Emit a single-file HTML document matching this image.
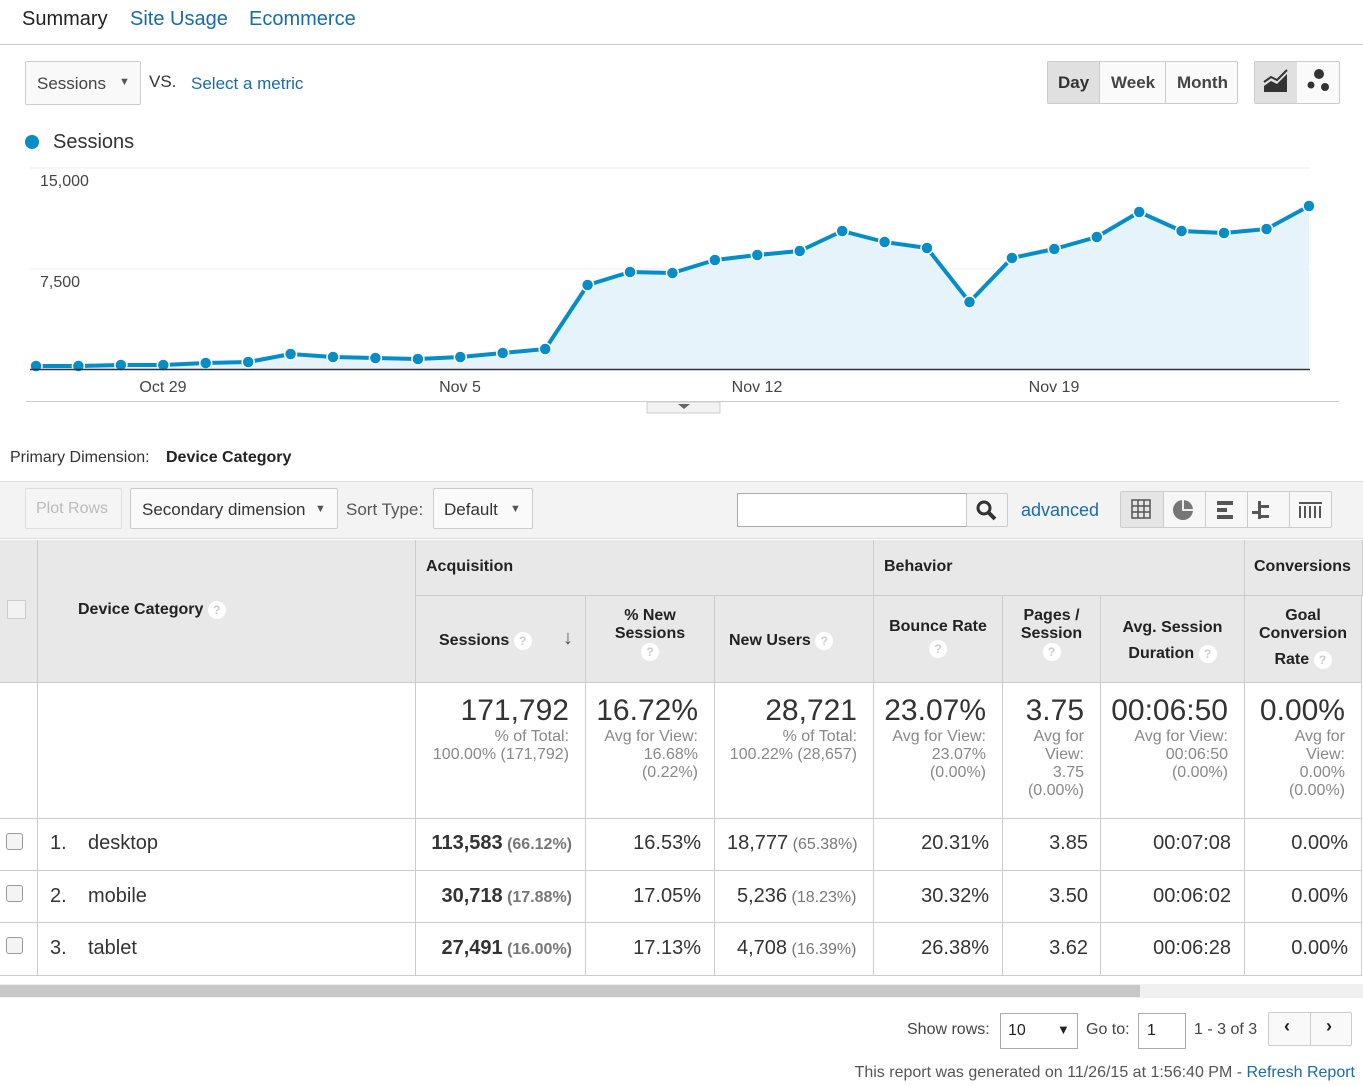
<!DOCTYPE html>
<html><head><meta charset="utf-8"><style>
*{box-sizing:border-box;margin:0;padding:0}
body{width:1363px;height:1086px;overflow:hidden;background:#fff;font-family:"Liberation Sans",Arial,sans-serif;color:#333;position:relative}
.a{position:absolute;white-space:nowrap}
.btn{position:absolute;border:1px solid #ccc;border-radius:2px;background:#f9f9f9}
.hd{position:absolute;background:#e8e8e8;border-right:1px solid #ccc;border-bottom:1px solid #ccc;font-weight:bold;font-size:16px;color:#222}
.q{display:inline-block;width:18px;height:18px;border-radius:9px;background:#fff;color:#ccc;font-size:12px;text-align:center;line-height:18px;font-weight:bold;vertical-align:middle}
.cell{position:absolute;border-right:1px solid #ccc;border-bottom:1px solid #ccc}
.big{font-size:30px;color:#333}
.sm{font-size:16px;color:#888;line-height:18px}
.r{text-align:right}
.v{font-size:20px;color:#333}
.g{font-size:16px;color:#777}
</style></head><body>
<div class="a" style="left:22px;top:8px;font-size:20px;color:#222">Summary</div>
<div class="a" style="left:130px;top:8px;font-size:20px;color:#1a6ba8">Site Usage</div>
<div class="a" style="left:249px;top:8px;font-size:20px;color:#1a6ba8">Ecommerce</div>
<div class="a" style="left:0;top:44px;width:1363px;height:1px;background:#ccc"></div>

<div class="btn" style="left:25px;top:61px;width:116px;height:44px"></div>
<div class="a" style="left:37px;top:74px;font-size:17px;color:#444">Sessions</div>
<div class="a" style="left:119px;top:76px;font-size:11px;color:#555">▼</div>
<div class="a" style="left:149px;top:72px;font-size:17px;color:#333">VS.</div>
<div class="a" style="left:191px;top:74px;font-size:17px;color:#1a6ba8">Select a metric</div>

<div class="btn" style="left:1047px;top:61px;width:191px;height:43px;background:#fafafa"></div>
<div class="a" style="left:1048px;top:62px;width:52px;height:41px;background:#e0e0e0"></div>
<div class="a" style="left:1099px;top:61px;width:1px;height:43px;background:#ccc"></div>
<div class="a" style="left:1165px;top:61px;width:1px;height:43px;background:#ccc"></div>
<div class="a" style="left:1058px;top:73px;font-size:17px;font-weight:bold;color:#333">Day</div>
<div class="a" style="left:1111px;top:73px;font-size:17px;font-weight:bold;color:#444">Week</div>
<div class="a" style="left:1177px;top:73px;font-size:17px;font-weight:bold;color:#444">Month</div>
<div class="btn" style="left:1254px;top:61px;width:86px;height:43px;background:#fafafa"></div>
<div class="a" style="left:1255px;top:62px;width:42px;height:41px;background:#e0e0e0"></div>
<svg class="a" style="left:1255px;top:62px" width="85" height="41"><path d="M9 30 L9 24 L16 19 L22 22 L32 12 L32 30Z" fill="#333"/><path d="M9 20 L16 15 L22 18 L32 8" stroke="#333" stroke-width="2" fill="none"/><circle cx="64" cy="12" r="5" fill="#333"/><circle cx="56" cy="23" r="3.5" fill="#333"/><circle cx="70" cy="25" r="4" fill="#333"/></svg>

<div class="a" style="left:25px;top:135px;width:14px;height:14px;border-radius:7px;background:#058dc7"></div>
<div class="a" style="left:53px;top:131px;font-size:20px;color:#333">Sessions</div>

<svg class="a" style="left:0;top:160px" width="1363" height="260">
<line x1="30" y1="8" x2="1310" y2="8" stroke="#eee"/>
<line x1="30" y1="109" x2="1310" y2="109" stroke="#eee"/>
<polygon fill="#e6f3fa" points="36,206 78.4,206 120.9,205 163.3,205 205.7,203 248.2,202 290.6,194 333,197 375.4,198 417.9,199 460.3,197 502.7,193 545.2,189 587.6,125 630,112 672.4,113 714.9,100 757.3,95 799.7,91 842.2,71 884.6,82 927,88 969.5,142 1011.9,98 1054.3,89 1096.8,77 1139.2,52 1181.6,71 1224,73 1266.5,69 1309,46 1309,209 36,209"/>
<polyline fill="none" stroke="#058dc7" stroke-width="4" stroke-linejoin="round" points="36,206 78.4,206 120.9,205 163.3,205 205.7,203 248.2,202 290.6,194 333,197 375.4,198 417.9,199 460.3,197 502.7,193 545.2,189 587.6,125 630,112 672.4,113 714.9,100 757.3,95 799.7,91 842.2,71 884.6,82 927,88 969.5,142 1011.9,98 1054.3,89 1096.8,77 1139.2,52 1181.6,71 1224,73 1266.5,69 1309,46"/>
<g fill="#058dc7" stroke="#fff" stroke-width="1.5">
<circle cx="36" cy="206" r="6"/><circle cx="78.4" cy="206" r="6"/><circle cx="120.9" cy="205" r="6"/><circle cx="163.3" cy="205" r="6"/><circle cx="205.7" cy="203" r="6"/><circle cx="248.2" cy="202" r="6"/><circle cx="290.6" cy="194" r="6"/><circle cx="333" cy="197" r="6"/><circle cx="375.4" cy="198" r="6"/><circle cx="417.9" cy="199" r="6"/><circle cx="460.3" cy="197" r="6"/><circle cx="502.7" cy="193" r="6"/><circle cx="545.2" cy="189" r="6"/><circle cx="587.6" cy="125" r="6"/><circle cx="630" cy="112" r="6"/><circle cx="672.4" cy="113" r="6"/><circle cx="714.9" cy="100" r="6"/><circle cx="757.3" cy="95" r="6"/><circle cx="799.7" cy="91" r="6"/><circle cx="842.2" cy="71" r="6"/><circle cx="884.6" cy="82" r="6"/><circle cx="927" cy="88" r="6"/><circle cx="969.5" cy="142" r="6"/><circle cx="1011.9" cy="98" r="6"/><circle cx="1054.3" cy="89" r="6"/><circle cx="1096.8" cy="77" r="6"/><circle cx="1139.2" cy="52" r="6"/><circle cx="1181.6" cy="71" r="6"/><circle cx="1224" cy="73" r="6"/><circle cx="1266.5" cy="69" r="6"/><circle cx="1309" cy="46" r="6"/>
</g>
<line x1="30" y1="209.5" x2="1310" y2="209.5" stroke="#333" stroke-width="1.5"/>
<text x="40" y="26" font-size="16" fill="#444" font-family="Liberation Sans">15,000</text>
<text x="40" y="127" font-size="16" fill="#444" font-family="Liberation Sans">7,500</text>
<g font-size="16" fill="#444" font-family="Liberation Sans" text-anchor="middle">
<text x="163" y="232">Oct 29</text><text x="460" y="232">Nov 5</text><text x="757" y="232">Nov 12</text><text x="1054" y="232">Nov 19</text></g>
<line x1="26" y1="241.5" x2="1339" y2="241.5" stroke="#ccc"/>
<rect x="647" y="242" width="73" height="11" fill="#f2f2f2" stroke="#ccc"/>
<path d="M678 244 L690 244 L684 249Z" fill="#666"/>
</svg>

<div class="a" style="left:10px;top:449px;font-size:16px;color:#333">Primary Dimension:</div>
<div class="a" style="left:166px;top:449px;font-size:16px;font-weight:bold;color:#222">Device Category</div>

<div class="a" style="left:0;top:481px;width:1363px;height:58px;background:#f3f3f3;border-top:1px solid #ddd;border-bottom:1px solid #ddd"></div>
<div class="btn" style="left:25px;top:488px;width:97px;height:41px;background:#f5f5f5;border-color:#ddd"></div>
<div class="a" style="left:36px;top:500px;font-size:16px;color:#bbb">Plot Rows</div>
<div class="btn" style="left:130px;top:488px;width:208px;height:41px;background:#fafafa"></div>
<div class="a" style="left:142px;top:500px;font-size:17px;color:#333">Secondary dimension</div>
<div class="a" style="left:315px;top:503px;font-size:11px;color:#555">▼</div>
<div class="a" style="left:346px;top:500px;font-size:17px;color:#555">Sort Type:</div>
<div class="btn" style="left:433px;top:488px;width:100px;height:41px;background:#fafafa"></div>
<div class="a" style="left:444px;top:500px;font-size:17px;color:#333">Default</div>
<div class="a" style="left:510px;top:503px;font-size:11px;color:#555">▼</div>
<div class="a" style="left:737px;top:493px;width:230px;height:34px;background:#fff;border:1px solid #aaa"></div>
<div class="btn" style="left:966px;top:493px;width:42px;height:34px;background:#f5f5f5"></div>
<svg class="a" style="left:975px;top:499px" width="24" height="24"><circle cx="9" cy="9" r="6" stroke="#333" stroke-width="3" fill="none"/><line x1="13" y1="13" x2="20" y2="20" stroke="#333" stroke-width="4"/></svg>
<div class="a" style="left:1021px;top:500px;font-size:18px;color:#1a6ba8">advanced</div>
<div class="btn" style="left:1120px;top:491px;width:212px;height:37px;background:#f7f7f7"></div>
<div class="a" style="left:1121px;top:492px;width:42px;height:35px;background:#e5e5e5"></div>
<div class="a" style="left:1163px;top:491px;width:1px;height:37px;background:#ccc"></div>
<div class="a" style="left:1205px;top:491px;width:1px;height:37px;background:#ccc"></div>
<div class="a" style="left:1247px;top:491px;width:1px;height:37px;background:#ccc"></div>
<div class="a" style="left:1289px;top:491px;width:1px;height:37px;background:#ccc"></div>
<svg class="a" style="left:1120px;top:491px" width="212" height="37"><g stroke="#555" fill="none" stroke-width="1.5"><rect x="12" y="9" width="18" height="18"/><line x1="18" y1="9" x2="18" y2="27"/><line x1="24" y1="9" x2="24" y2="27"/><line x1="12" y1="15" x2="30" y2="15"/><line x1="12" y1="21" x2="30" y2="21"/></g><circle cx="63" cy="19" r="10" fill="#777"/><path d="M63 9 L63 19 L73 19" stroke="#eee" stroke-width="2" fill="none"/><g fill="#555"><rect x="97" y="10" width="16" height="4"/><rect x="97" y="17" width="10" height="4"/><rect x="97" y="24" width="16" height="4"/><rect x="138" y="10" width="3" height="18"/><rect x="141" y="14" width="8" height="3"/><rect x="132" y="20" width="8" height="3"/><rect x="141" y="24" width="8" height="3"/><rect x="179" y="11" width="23" height="2"/><rect x="179" y="15" width="2" height="12"/><rect x="184" y="15" width="2" height="12"/><rect x="189" y="15" width="2" height="12"/><rect x="194" y="15" width="2" height="12"/><rect x="199" y="15" width="2" height="12"/></g></svg>

<!-- table header -->
<div class="hd" style="left:0;top:540px;width:38px;height:143px"></div>
<div class="a" style="left:7px;top:600px;width:19px;height:19px;border:1px solid #ccc;background:#f2f2f2"></div>
<div class="hd" style="left:38px;top:540px;width:378px;height:143px"></div>
<div class="a" style="left:78px;top:601px;font-size:16px;font-weight:bold;color:#222">Device Category <span class="q">?</span></div>
<div class="hd" style="left:416px;top:540px;width:458px;height:56px"></div>
<div class="a" style="left:426px;top:558px;font-size:16px;font-weight:bold;color:#222">Acquisition</div>
<div class="hd" style="left:874px;top:540px;width:371px;height:56px"></div>
<div class="a" style="left:884px;top:558px;font-size:16px;font-weight:bold;color:#222">Behavior</div>
<div class="hd" style="left:1245px;top:540px;width:118px;height:56px"></div>
<div class="a" style="left:1254px;top:558px;font-size:16px;font-weight:bold;color:#222">Conversions</div>
<div class="hd" style="left:416px;top:596px;width:170px;height:87px"></div>
<div class="a" style="left:439px;top:632px;font-size:16px;font-weight:bold;color:#222">Sessions <span class="q">?</span></div>
<div class="a" style="left:563px;top:627px;font-size:20px;color:#555;font-weight:bold">↓</div>
<div class="hd" style="left:586px;top:596px;width:129px;height:87px;text-align:center;padding-top:11px;line-height:18px">% New<br>Sessions<br><span class="q">?</span></div>
<div class="hd" style="left:715px;top:596px;width:159px;height:87px"></div>
<div class="a" style="left:729px;top:632px;font-size:16px;font-weight:bold;color:#222">New Users <span class="q">?</span></div>
<div class="hd" style="left:874px;top:596px;width:129px;height:87px;text-align:center;padding-top:20px;line-height:22px">Bounce Rate<br><span class="q">?</span></div>
<div class="hd" style="left:1003px;top:596px;width:98px;height:87px;text-align:center;padding-top:11px;line-height:18px">Pages /<br>Session<br><span class="q">?</span></div>
<div class="hd" style="left:1101px;top:596px;width:144px;height:87px;text-align:center;padding-top:19px;line-height:26px">Avg. Session<br>Duration <span class="q">?</span></div>
<div class="hd" style="left:1245px;top:596px;width:117px;height:87px;text-align:center;padding-top:11px;line-height:26px"><span style="line-height:18px;display:inline-block">Goal<br>Conversion</span><br>Rate <span class="q">?</span></div>

<!-- totals -->
<div class="cell" style="left:0;top:682px;width:38px;height:137px"></div>
<div class="cell" style="left:38px;top:682px;width:378px;height:137px"></div>
<div class="cell r" style="left:416px;top:682px;width:170px;height:137px;padding:12px 16px 0 0"><div class="big">171,792</div><div class="sm">% of Total:<br>100.00% (171,792)</div></div>
<div class="cell r" style="left:585px;top:682px;width:130px;height:137px;padding:12px 16px 0 0"><div class="big">16.72%</div><div class="sm">Avg for View:<br>16.68%<br>(0.22%)</div></div>
<div class="cell r" style="left:714px;top:682px;width:160px;height:137px;padding:12px 16px 0 0"><div class="big">28,721</div><div class="sm">% of Total:<br>100.22% (28,657)</div></div>
<div class="cell r" style="left:873px;top:682px;width:130px;height:137px;padding:12px 16px 0 0"><div class="big">23.07%</div><div class="sm">Avg for View:<br>23.07%<br>(0.00%)</div></div>
<div class="cell r" style="left:1002px;top:682px;width:99px;height:137px;padding:12px 16px 0 0"><div class="big">3.75</div><div class="sm">Avg for<br>View:<br>3.75<br>(0.00%)</div></div>
<div class="cell r" style="left:1100px;top:682px;width:145px;height:137px;padding:12px 16px 0 0"><div class="big">00:06:50</div><div class="sm">Avg for View:<br>00:06:50<br>(0.00%)</div></div>
<div class="cell r" style="left:1244px;top:682px;width:118px;height:137px;padding:12px 16px 0 0"><div class="big">0.00%</div><div class="sm">Avg for<br>View:<br>0.00%<br>(0.00%)</div></div>

<div class="cell" style="left:0;top:818px;width:38px;height:53px"></div>
<div class="cell" style="left:38px;top:818px;width:378px;height:53px"></div>
<div class="cell" style="left:416px;top:818px;width:170px;height:53px"></div>
<div class="cell" style="left:585px;top:818px;width:130px;height:53px"></div>
<div class="cell" style="left:714px;top:818px;width:160px;height:53px"></div>
<div class="cell" style="left:873px;top:818px;width:130px;height:53px"></div>
<div class="cell" style="left:1002px;top:818px;width:99px;height:53px"></div>
<div class="cell" style="left:1100px;top:818px;width:145px;height:53px"></div>
<div class="cell" style="left:1244px;top:818px;width:118px;height:53px"></div>

<div class="cell" style="left:0;top:870px;width:38px;height:53px"></div>
<div class="cell" style="left:38px;top:870px;width:378px;height:53px"></div>
<div class="cell" style="left:416px;top:870px;width:170px;height:53px"></div>
<div class="cell" style="left:585px;top:870px;width:130px;height:53px"></div>
<div class="cell" style="left:714px;top:870px;width:160px;height:53px"></div>
<div class="cell" style="left:873px;top:870px;width:130px;height:53px"></div>
<div class="cell" style="left:1002px;top:870px;width:99px;height:53px"></div>
<div class="cell" style="left:1100px;top:870px;width:145px;height:53px"></div>
<div class="cell" style="left:1244px;top:870px;width:118px;height:53px"></div>

<div class="cell" style="left:0;top:922px;width:38px;height:54px"></div>
<div class="cell" style="left:38px;top:922px;width:378px;height:54px"></div>
<div class="cell" style="left:416px;top:922px;width:170px;height:54px"></div>
<div class="cell" style="left:585px;top:922px;width:130px;height:54px"></div>
<div class="cell" style="left:714px;top:922px;width:160px;height:54px"></div>
<div class="cell" style="left:873px;top:922px;width:130px;height:54px"></div>
<div class="cell" style="left:1002px;top:922px;width:99px;height:54px"></div>
<div class="cell" style="left:1100px;top:922px;width:145px;height:54px"></div>
<div class="cell" style="left:1244px;top:922px;width:118px;height:54px"></div>

<div class="a" style="left:6px;top:833px;width:17px;height:17px;border:1px solid #999;border-radius:3px;background:#f4f4f4"></div>
<div class="a" style="left:6px;top:885px;width:17px;height:17px;border:1px solid #999;border-radius:3px;background:#f4f4f4"></div>
<div class="a" style="left:6px;top:937px;width:17px;height:17px;border:1px solid #999;border-radius:3px;background:#f4f4f4"></div>

<div class="a v" style="left:50px;top:832px">1.</div><div class="a v" style="left:88px;top:832px">desktop</div>
<div class="a v" style="left:50px;top:885px">2.</div><div class="a v" style="left:88px;top:885px">mobile</div>
<div class="a v" style="left:50px;top:937px">3.</div><div class="a v" style="left:88px;top:937px">tablet</div>

<div class="a r" style="right:791px;top:832px"><b class="v">113,583</b> <b class="g">(66.12%)</b></div>
<div class="a r" style="right:791px;top:885px"><b class="v">30,718</b> <b class="g">(17.88%)</b></div>
<div class="a r" style="right:791px;top:937px"><b class="v">27,491</b> <b class="g">(16.00%)</b></div>

<div class="a v" style="right:662px;top:832px">16.53%</div>
<div class="a v" style="right:662px;top:885px">17.05%</div>
<div class="a v" style="right:662px;top:937px">17.13%</div>

<div class="a" style="left:727px;top:832px"><span class="v">18,777</span> <span class="g">(65.38%)</span></div>
<div class="a" style="left:737px;top:885px"><span class="v">5,236</span> <span class="g">(18.23%)</span></div>
<div class="a" style="left:737px;top:937px"><span class="v">4,708</span> <span class="g">(16.39%)</span></div>

<div class="a v" style="right:374px;top:832px">20.31%</div>
<div class="a v" style="right:374px;top:885px">30.32%</div>
<div class="a v" style="right:374px;top:937px">26.38%</div>

<div class="a v" style="right:275px;top:832px">3.85</div>
<div class="a v" style="right:275px;top:885px">3.50</div>
<div class="a v" style="right:275px;top:937px">3.62</div>

<div class="a v" style="right:132px;top:832px">00:07:08</div>
<div class="a v" style="right:132px;top:885px">00:06:02</div>
<div class="a v" style="right:132px;top:937px">00:06:28</div>

<div class="a v" style="right:15px;top:832px">0.00%</div>
<div class="a v" style="right:15px;top:885px">0.00%</div>
<div class="a v" style="right:15px;top:937px">0.00%</div>

<div class="a" style="left:0;top:984px;width:1363px;height:14px;background:#f0f0f0"></div>
<div class="a" style="left:0;top:985px;width:1140px;height:12px;background:#c8c8c8"></div>

<div class="a" style="left:907px;top:1021px;font-size:16px;color:#444">Show rows:</div>
<div class="a" style="left:1000px;top:1013px;width:78px;height:36px;border:1px solid #aaa;background:#fff"></div>
<div class="a" style="left:1008px;top:1022px;font-size:16px;color:#222">10</div>
<div class="a" style="left:1057px;top:1022px;font-size:13px;color:#222">▼</div>
<div class="a" style="left:1086px;top:1021px;font-size:16px;color:#444">Go to:</div>
<div class="a" style="left:1138px;top:1013px;width:48px;height:36px;border:1px solid #aaa;background:#fff"></div>
<div class="a" style="left:1147px;top:1022px;font-size:16px;color:#222">1</div>
<div class="a" style="left:1194px;top:1021px;font-size:16px;color:#444">1 - 3 of 3</div>
<div class="btn" style="left:1268px;top:1012px;width:84px;height:34px"></div>
<div class="a" style="left:1310px;top:1012px;width:1px;height:34px;background:#ccc"></div>
<div class="a" style="left:1284px;top:1016px;font-size:18px;font-weight:bold;color:#222">‹</div>
<div class="a" style="left:1326px;top:1016px;font-size:18px;font-weight:bold;color:#222">›</div>

<div class="a" style="right:8px;top:1064px;font-size:16px;color:#555">This report was generated on 11/26/15 at 1:56:40 PM - <span style="color:#1a6ba8">Refresh Report</span></div>
</body></html>
